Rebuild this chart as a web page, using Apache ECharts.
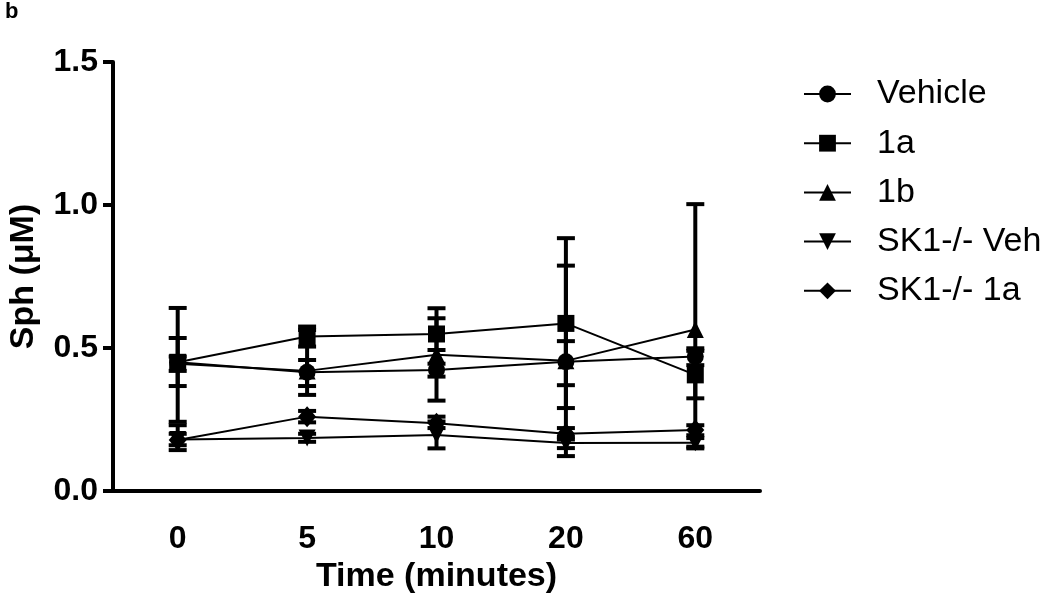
<!DOCTYPE html>
<html>
<head>
<meta charset="utf-8">
<script src="https://cdn.jsdelivr.net/npm/echarts@6/dist/echarts.min.js"></script>
<style>html,body{margin:0;padding:0;background:#fff}#chart{width:1050px;height:594px}</style>
</head>
<body>
<div id="chart"></div>
<script>
// Data
const categories = ['0', '5', '10', '20', '60'];
const yTicks = [0, 0.5, 1.0, 1.5];

const vehicle     = [0.450, 0.415, 0.423, 0.452, 0.470];
const vehicleLow  = [0.367, 0.367, 0.400, 0.370, 0.440];
const vehicleHigh = [0.535, 0.458, 0.445, 0.524, 0.499];

const c1a     = [0.450, 0.540, 0.549, 0.586, 0.406];
const c1aLow  = [0.242, 0.505, 0.493, 0.290, 0.324];
const c1aHigh = [0.640, 0.575, 0.604, 0.884, 0.490];

const c1b     = [0.445, 0.420, 0.476, 0.455, 0.565];
const c1bLow  = [0.420, 0.336, 0.316, 0.122, 0.149];
const c1bHigh = [0.470, 0.563, 0.639, 0.788, 1.003];

const skVeh     = [0.180, 0.185, 0.196, 0.168, 0.169];
const skVehLow  = [0.143, 0.172, 0.149, 0.150, 0.155];
const skVehHigh = [0.230, 0.200, 0.243, 0.190, 0.185];

const sk1a     = [0.178, 0.260, 0.237, 0.200, 0.213];
const sk1aLow  = [0.160, 0.240, 0.220, 0.180, 0.195];
const sk1aHigh = [0.200, 0.280, 0.260, 0.220, 0.230];

const seriesNames = ['Vehicle', '1a', '1b', 'SK1-/- Veh', 'SK1-/- 1a'];

const groups = [
  {name: seriesNames[0], mean: vehicle, low: vehicleLow, high: vehicleHigh, symbol: 'circle', size: 17, rot: 0},
  {name: seriesNames[1], mean: c1a, low: c1aLow, high: c1aHigh, symbol: 'rect', size: 17, rot: 0},
  {name: seriesNames[2], mean: c1b, low: c1bLow, high: c1bHigh, symbol: 'triangle', size: 17, rot: 0},
  {name: seriesNames[3], mean: skVeh, low: skVehLow, high: skVehHigh, symbol: 'triangle', size: 17, rot: 180},
  {name: seriesNames[4], mean: sk1a, low: sk1aLow, high: sk1aHigh, symbol: 'diamond', size: [18, 21], rot: 0}
];

const FONT = "'Liberation Sans', Arial, Helvetica, sans-serif";

function errRender(params, api) {
  const x = api.value(0);
  const lo = api.coord([x, api.value(1)]);
  const hi = api.coord([x, api.value(2)]);
  const hw = 9;
  const st = {stroke: '#000', lineWidth: 4};
  return {
    type: 'group',
    children: [
      {type: 'line', shape: {x1: lo[0], y1: lo[1], x2: hi[0], y2: hi[1]}, style: st},
      {type: 'line', shape: {x1: hi[0] - hw, y1: hi[1], x2: hi[0] + hw, y2: hi[1]}, style: st},
      {type: 'line', shape: {x1: lo[0] - hw, y1: lo[1], x2: lo[0] + hw, y2: lo[1]}, style: st}
    ]
  };
}

const series = [];
groups.forEach((g) => {
  series.push({
    name: g.name + ' err',
    type: 'custom',
    renderItem: errRender,
    data: categories.map((c, i) => [i, g.low[i], g.high[i]]),
    encode: {x: 0, y: [1, 2]},
    z: 1,
    silent: true
  });
});
groups.forEach((g) => {
  series.push({
    name: g.name,
    type: 'line',
    data: g.mean,
    symbol: g.symbol,
    symbolSize: g.size,
    symbolRotate: g.rot,
    showAllSymbol: true,
    lineStyle: {color: '#000', width: 2},
    itemStyle: {color: '#000', borderWidth: 0},
    z: 3,
    animation: false
  });
});

const chart = echarts.init(document.getElementById('chart'), null, {renderer: 'canvas'});
chart.setOption({
  animation: false,
  backgroundColor: '#fff',
  title: {
    text: 'b', left: 0, top: -4,
    textStyle: {fontFamily: FONT, fontWeight: 'bold', fontSize: 22, color: '#000'}
  },
  grid: {left: 113, right: 290, top: 62, bottom: 103, containLabel: false, outerBoundsMode: 'none'},
  legend: {
    data: seriesNames,
    orient: 'vertical',
    left: 803,
    top: 77,
    padding: 0,
    itemWidth: 47,
    itemHeight: 21,
    itemGap: 15.2,
    textStyle: {fontFamily: FONT, fontSize: 34, color: '#000', lineHeight: 33, padding: [0, 0, 0, 21]}
  },
  xAxis: {
    type: 'category',
    data: categories,
    boundaryGap: true,
    name: 'Time (minutes)',
    nameLocation: 'middle',
    nameGap: 68,
    nameTextStyle: {fontFamily: FONT, fontWeight: 'bold', fontSize: 34, color: '#000'},
    axisLine: {lineStyle: {color: '#000', width: 4}},
    axisTick: {alignWithLabel: true, length: 10, lineStyle: {color: '#000', width: 4}},
    axisLabel: {margin: 32, fontFamily: FONT, fontWeight: 'bold', fontSize: 32, color: '#000'},
    splitLine: {show: false}
  },
  yAxis: {
    type: 'value',
    min: yTicks[0],
    max: yTicks[yTicks.length - 1],
    interval: 0.5,
    name: 'Sph (\u03BCM)',
    nameLocation: 'middle',
    nameGap: 72,
    nameRotate: 90,
    nameTextStyle: {fontFamily: FONT, fontWeight: 'bold', fontSize: 34, color: '#000'},
    axisLine: {show: true, lineStyle: {color: '#000', width: 4}},
    axisTick: {show: true, length: 10, lineStyle: {color: '#000', width: 4}},
    axisLabel: {margin: 15, fontFamily: FONT, fontWeight: 'bold', fontSize: 32, color: '#000',
      formatter: v => v.toFixed(1)},
    splitLine: {show: false}
  },
  series: series
});
</script>
</body>
</html>
